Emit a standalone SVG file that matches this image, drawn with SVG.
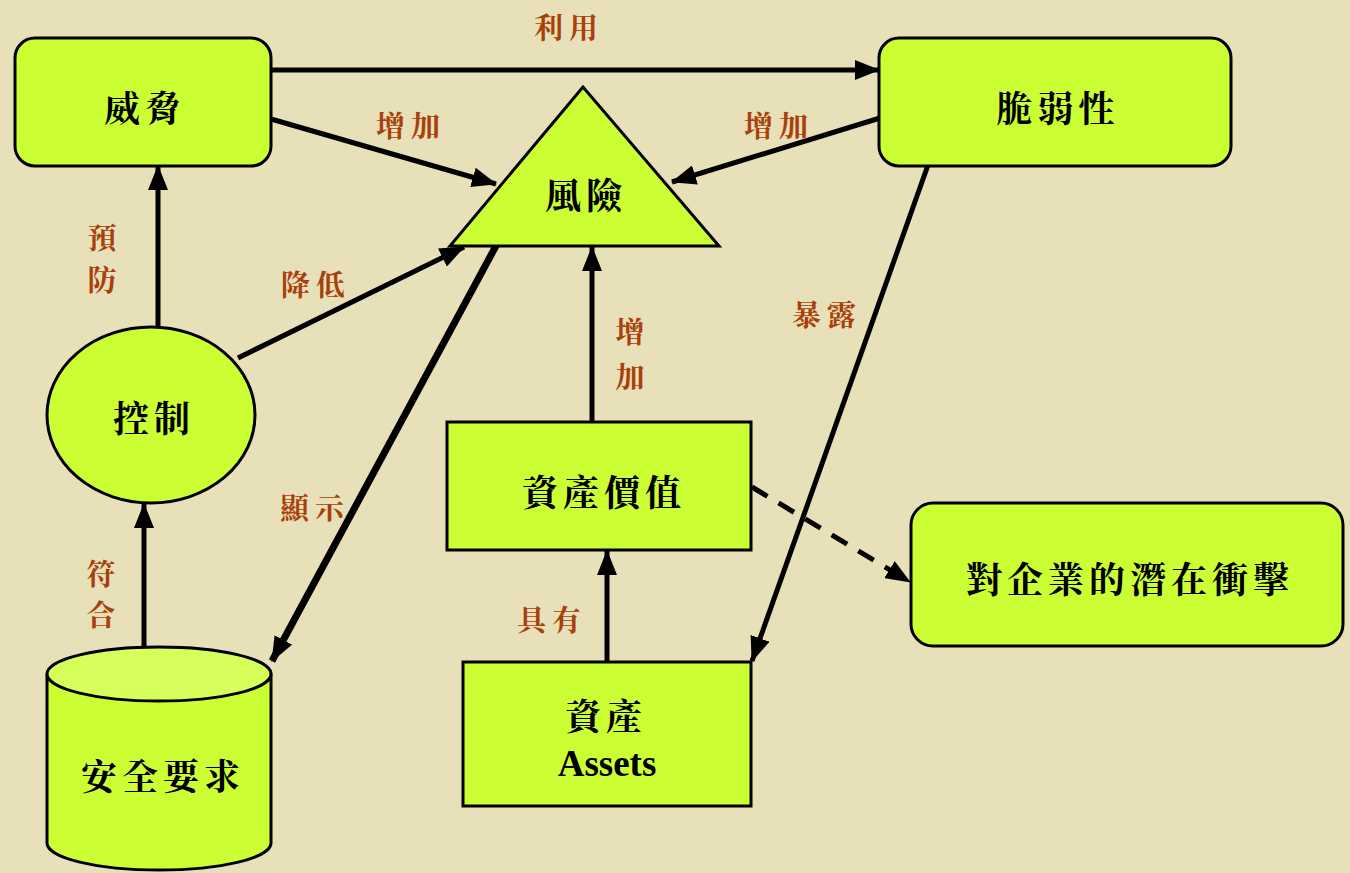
<svg xmlns="http://www.w3.org/2000/svg" width="1350" height="873" viewBox="0 0 1350 873">
<defs>
<style>
.node{fill:#CCFF33;stroke:#000;stroke-width:3}
.top{fill:#D6FF5C;stroke:#000;stroke-width:3}
.t{font-family:"Noto Serif CJK TC","Noto Sans CJK TC",serif;font-weight:bold;font-size:36px;letter-spacing:5px;fill:#000;text-anchor:middle;dominant-baseline:central}
.lab{font-family:"Noto Serif CJK TC","Noto Sans CJK TC",serif;font-weight:bold;font-size:29px;letter-spacing:6px;fill:#A8400C;text-anchor:middle;dominant-baseline:central}
.c{stroke:#000;stroke-width:5;fill:none;marker-end:url(#ah)}
</style>
<marker id="ah" markerUnits="userSpaceOnUse" markerWidth="26" markerHeight="20" refX="24" refY="10" orient="auto">
<path d="M0,0 L25,10 L0,20 z" fill="#000"/>
</marker>
</defs>
<rect x="0" y="0" width="1350" height="873" fill="#E8E0B8"/>

<g id="connectors">
<line class="c" x1="271" y1="70" x2="879" y2="70"/>
<line class="c" x1="271" y1="119" x2="496" y2="184"/>
<line class="c" x1="880" y1="118" x2="672" y2="182"/>
<line class="c" x1="158" y1="327" x2="158" y2="166"/>
<line class="c" x1="238" y1="358" x2="464" y2="247"/>
<line class="c" x1="497" y1="244" x2="272" y2="661" style="stroke-width:7"/>
<line class="c" x1="592" y1="423" x2="592" y2="247"/>
<line class="c" x1="928" y1="165" x2="752" y2="661"/>
<line class="c" x1="607" y1="663" x2="607" y2="551"/>
<line class="c" x1="144" y1="648" x2="144" y2="504"/>
<line class="c" x1="752" y1="487" x2="910" y2="582" style="stroke-dasharray:18 13"/>
<text class="lab" x="569" y="26">利用</text>
<text class="lab" x="411" y="124">增加</text>
<text class="lab" x="779" y="124">增加</text>
<text class="lab" x="105" y="236">預</text>
<text class="lab" x="105" y="278">防</text>
<text class="lab" x="316" y="283">降低</text>
<text class="lab" x="315" y="506">顯示</text>
<text class="lab" x="633" y="330">增</text>
<text class="lab" x="633" y="375">加</text>
<text class="lab" x="827" y="313">暴露</text>
<text class="lab" x="552" y="618">具有</text>
<text class="lab" x="104" y="572">符</text>
<text class="lab" x="104" y="613">合</text>
</g>

<g id="threat">
<rect class="node" x="15" y="38" width="256" height="128" rx="20"/>
<text class="t" x="145" y="106">威脅</text>
</g>
<g id="vulnerability">
<rect class="node" x="879" y="38" width="352" height="128" rx="20"/>
<text class="t" x="1058" y="106">脆弱性</text>
</g>
<g id="risk">
<polygon class="node" points="583,87 450,246 719,246"/>
<text class="t" x="586" y="193">風險</text>
</g>
<g id="control">
<ellipse class="node" cx="151" cy="415" rx="104" ry="88"/>
<text class="t" x="154" y="416">控制</text>
</g>
<g id="security-requirements">
<path class="node" d="M47,674 L47,843 A112,27 0 0 0 271,843 L271,674"/>
<ellipse class="top" cx="159" cy="674" rx="112" ry="27"/>
<text class="t" x="163" y="774">安全要求</text>
</g>
<g id="asset-value">
<rect class="node" x="447" y="422" width="304" height="128"/>
<text class="t" x="604" y="490">資產價值</text>
</g>
<g id="assets">
<rect class="node" x="463" y="662" width="288" height="144"/>
<text class="t" x="606" y="714">資產</text>
<text x="607" y="763" style="font-family:'Liberation Serif',serif;font-weight:bold;font-size:37px;text-anchor:middle;dominant-baseline:central">Assets</text>
</g>
<g id="impact">
<rect class="node" x="911" y="503" width="432" height="143" rx="22"/>
<text class="t" x="1130" y="577">對企業的潛在衝擊</text>
</g>
</svg>
